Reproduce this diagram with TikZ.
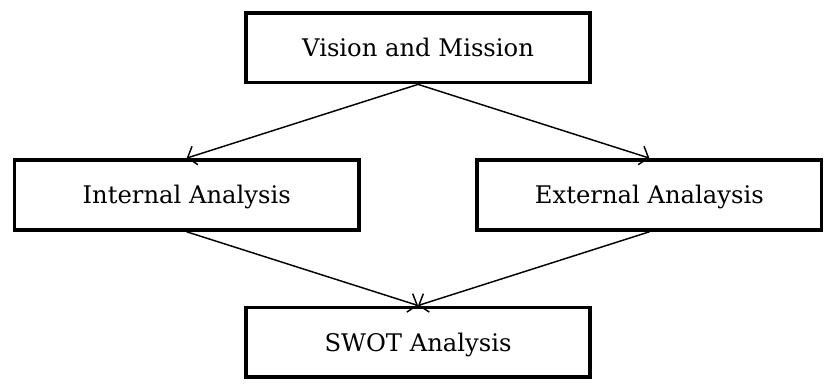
\documentclass[tikz,border=0pt]{standalone}
\usepackage{fontspec}
\setmainfont{DejaVu Serif}
\usetikzlibrary{arrows.meta}
\begin{document}
\begin{tikzpicture}[x=1pt,y=1pt,
  box/.style={draw, line width=4pt, minimum width=355pt, minimum height=72pt,
    inner sep=0pt, text height=18.4pt, text depth=0pt,
    font=\fontsize{25}{30}\selectfont},
  conn/.style={line width=1.5pt, -{Straight Barb[length=8pt,width=20pt]}}]
\useasboundingbox (0,0) rectangle (864,-401);
\node[box] (v) at (431,-49) {Vision and Mission};
\node[box] (i) at (192.5,-201) {Internal Analysis};
\node[box] (e) at (669.5,-201) {External Analaysis};
\node[box] (s) at (431,-353) {SWOT Analysis};
\draw[conn] (v.south) -- (i.north);
\draw[conn] (v.south) -- (e.north);
\draw[conn] (i.south) -- (s.north);
\draw[conn] (e.south) -- (s.north);
\end{tikzpicture}
\end{document}
